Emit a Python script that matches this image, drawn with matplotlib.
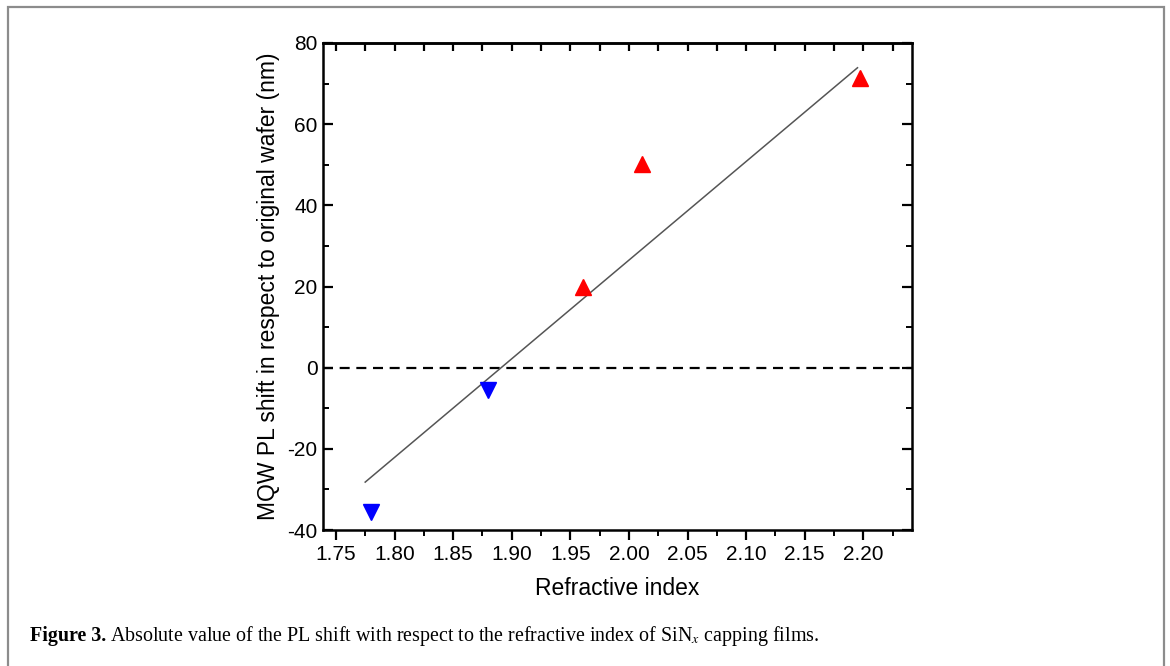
import matplotlib
matplotlib.use("Agg")
import matplotlib.pyplot as plt
from matplotlib.ticker import MultipleLocator, FormatStrFormatter
from matplotlib.patches import Rectangle

# data
blue_x = [1.78, 1.88]
blue_y = [-35.5, -5.5]
red_x = [1.961, 2.011, 2.197]
red_y = [20.0, 50.3, 71.3]
fit_x = [1.775, 2.195]
fit_y = [-28.2, 73.9]
xticks = [1.75, 1.80, 1.85, 1.90, 1.95, 2.00, 2.05, 2.10, 2.15, 2.20]
yticks = [-40, -20, 0, 20, 40, 60, 80]

plt.rcParams['font.family'] = ['Liberation Sans', 'DejaVu Sans']
plt.rcParams['axes.unicode_minus'] = False

W, H = 1170, 666
fig = plt.figure(figsize=(W / 100, H / 100), dpi=100)

# outer frame
fig.patches.append(Rectangle((8 / W, -0.1), (1164 - 8) / W, 1.1 - 7 / H,
                             transform=fig.transFigure, fill=False,
                             edgecolor='#8c8c8c', linewidth=1.6))

left, right, top, bottom = 323, 912, 43, 530
ax = fig.add_axes([left / W, 1 - bottom / H, (right - left) / W, (bottom - top) / H])

ax.axhline(0, color='black', linestyle=(0, (4.5, 3)), linewidth=1.6, zorder=1)
ax.plot(fit_x, fit_y, color='#555555', linewidth=1.1, zorder=2)
ax.plot(blue_x, blue_y, linestyle='none', marker='v', color='#0000ff',
        markersize=11, zorder=3)
ax.plot(red_x, red_y, linestyle='none', marker='^', color='#ff0000',
        markersize=11, zorder=3)

ax.set_xlim(1.739, 2.2415)
ax.set_ylim(-40, 80)
ax.set_xticks(xticks)
ax.set_yticks(yticks)
ax.xaxis.set_major_formatter(FormatStrFormatter('%.2f'))
ax.xaxis.set_minor_locator(MultipleLocator(0.025))
ax.yaxis.set_minor_locator(MultipleLocator(10))

for s in ax.spines.values():
    s.set_linewidth(1.8)

ax.tick_params(axis='x', which='both', direction='out', top=False, labelsize=15, pad=4)
ax.tick_params(axis='x', which='major', length=7, width=1.6)
ax.tick_params(axis='x', which='minor', length=4, width=1.4)
ax.tick_params(axis='y', which='both', direction='in', right=True, labelsize=15, pad=4)
ax.tick_params(axis='y', which='major', length=7, width=1.6)
ax.tick_params(axis='y', which='minor', length=4, width=1.4)

# top ticks inward via secondary axis
sec = ax.secondary_xaxis('top')
sec.set_xticks(xticks)
sec.xaxis.set_minor_locator(MultipleLocator(0.025))
sec.tick_params(which='both', direction='in', labeltop=False, length=6, width=1.6)
sec.spines['top'].set_linewidth(1.8)

ax.set_xlabel('Refractive index', fontsize=16.5, labelpad=9)
ax.set_ylabel('MQW PL shift in respect to original wafer (nm)', fontsize=16.5, labelpad=5)

cap_font = ['Liberation Serif', 'DejaVu Serif']
t1 = fig.text(30 / W, 1 - 636 / H, 'Figure 3.', fontsize=14.4, fontweight='bold',
              family=cap_font, va='center', ha='left')
fig.canvas.draw()
bb = t1.get_window_extent()
fig.text((bb.x1 + 4) / W, 1 - 636 / H,
         'Absolute value of the PL shift with respect to the refractive index of SiN$_x$ capping films.',
         fontsize=14.4, family=cap_font, va='center', ha='left',
         math_fontfamily='stix')

fig.savefig('out.png', dpi=100)
